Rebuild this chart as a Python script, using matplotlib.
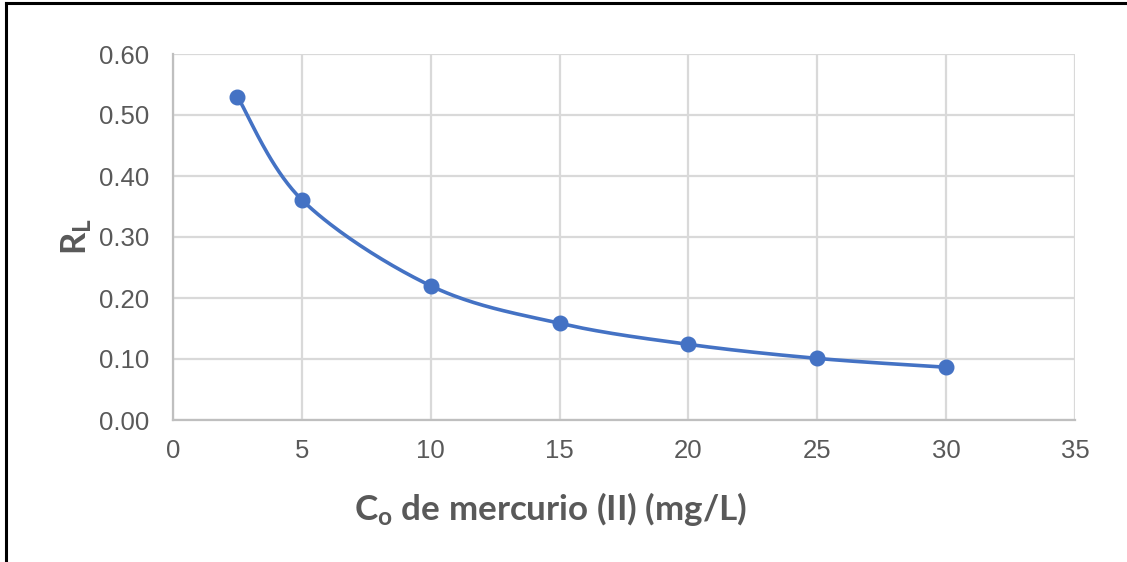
"""R_L versus initial mercury(II) concentration, Excel-style smoothed scatter."""

import matplotlib

matplotlib.use("Agg")
import matplotlib.pyplot as plt  # noqa: E402
import numpy as np  # noqa: E402
from matplotlib.lines import Line2D  # noqa: E402

# Data.
conc = [2.5, 5, 10, 15, 20, 25, 30]
rl = [0.530, 0.361, 0.220, 0.1585, 0.124, 0.101, 0.0865]
x_ticks = [0, 5, 10, 15, 20, 25, 30, 35]
y_ticks = [0.0, 0.1, 0.2, 0.3, 0.4, 0.5, 0.6]

BLUE = "#4472C4"
TEXT = "#595959"
GRID = "#d9d9d9"
AXIS = "#bfbfbf"


def smooth_curve(xs, ys, n=40):
    """Catmull-Rom style bezier through the points, like Excel's smoothed line."""
    pts = np.column_stack([xs, ys]).astype(float)
    ext = np.vstack([pts[0], pts, pts[-1]])
    out = []
    t = np.linspace(0, 1, n)[:, None]
    for i in range(1, len(ext) - 2):
        p0, p1, p2, p3 = ext[i - 1], ext[i], ext[i + 1], ext[i + 2]
        c1 = p1 + (p2 - p0) / 6.0
        c2 = p2 - (p3 - p1) / 6.0
        seg = ((1 - t) ** 3) * p1 + 3 * ((1 - t) ** 2) * t * c1 \
            + 3 * (1 - t) * t ** 2 * c2 + t ** 3 * p2
        out.append(seg if i == 1 else seg[1:])
    curve = np.vstack(out)
    return curve[:, 0], curve[:, 1]


plt.rcParams["font.family"] = ["Liberation Sans", "DejaVu Sans"]

W, H = 1127, 562
fig = plt.figure(figsize=(W / 100, H / 100), dpi=100)
ax = fig.add_axes([173 / W, 1 - 420 / H, (1075 - 173) / W, (420 - 54) / H])

sx, sy = smooth_curve(conc, rl)
ax.plot(sx, sy, color=BLUE, lw=2.6, solid_capstyle="round", zorder=3)
ax.plot(conc, rl, "o", color=BLUE, ms=10.5, zorder=4)

ax.set_xlim(0, 35)
ax.set_ylim(0, 0.6)
ax.set_xticks(x_ticks)
ax.set_yticks(y_ticks)
ax.set_yticklabels([f"{v:.2f}" for v in y_ticks])
ax.tick_params(length=0, labelsize=18.5, colors=TEXT)
ax.tick_params(axis="y", pad=17)
ax.tick_params(axis="x", pad=14)
ax.grid(True, color=GRID, lw=1.6)
ax.set_axisbelow(True)
for side in ("top", "right"):
    ax.spines[side].set_visible(False)
for side in ("left", "bottom"):
    ax.spines[side].set_color(AXIS)
    ax.spines[side].set_linewidth(1.6)

ax.set_xlabel(r"$\mathregular{C_o}$ de mercurio (II) (mg/L)", family="Lato",
              fontweight="bold", fontsize=25.2, color=TEXT)
ax.xaxis.set_label_coords(0.418, -0.19)
ax.set_ylabel(r"$\mathregular{R_L}$", family="Lato", fontweight="bold",
              fontsize=25, color=TEXT)
ax.yaxis.set_label_coords(-0.088, 0.5)

# Outer chart border (only top and left are visible in the reference).
fig.add_artist(Line2D([6 / W, 6 / W], [0, 1 - 3 / H], color="black", lw=2.2,
                      transform=fig.transFigure))
fig.add_artist(Line2D([6 / W, 1], [1 - 3 / H, 1 - 3 / H], color="black", lw=2.2,
                      transform=fig.transFigure))

fig.savefig("out.png", dpi=100)
plt.close(fig)
